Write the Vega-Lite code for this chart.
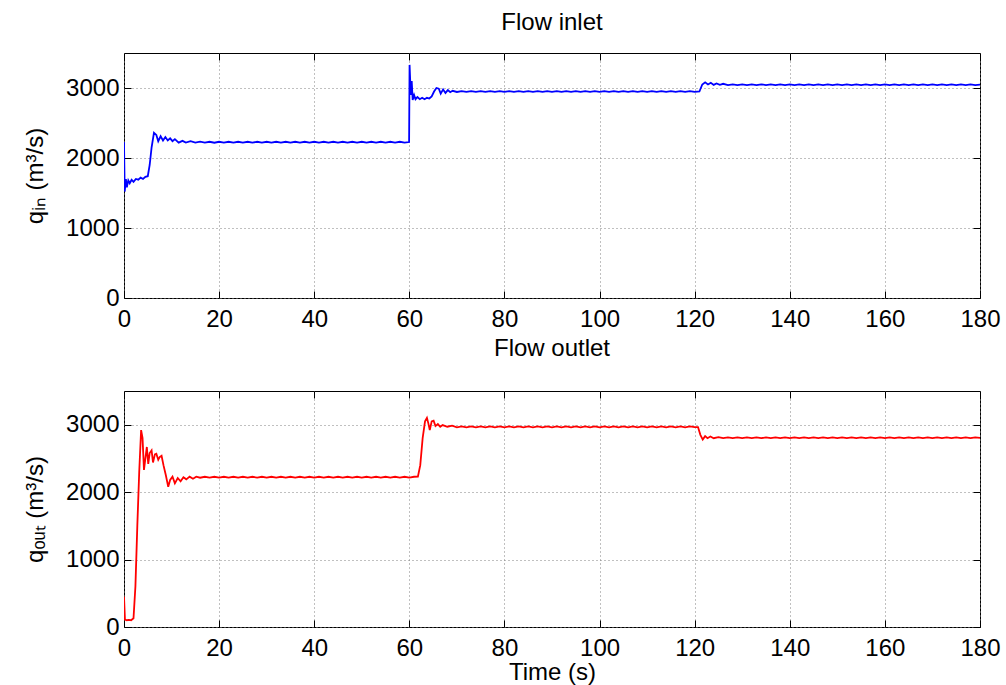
{
  "$schema": "https://vega.github.io/schema/vega-lite/v6.json",
  "autosize": {"type": "pad"},
  "padding": {"left": 23, "top": 10, "right": 26, "bottom": 5},
  "background": "white",
  "bounds": "flush",
  "spacing": 93,
  "config": {
    "font": "Liberation Sans",
    "view": {"stroke": "#000000", "strokeWidth": 1},
    "axis": {
      "labelFont": "Liberation Sans", "labelFontSize": 24, "labelColor": "#000000",
      "titleFont": "Liberation Sans", "titleFontSize": 24, "titleFontWeight": "normal", "titleColor": "#000000",
      "domain": false, "tickColor": "#000000", "tickSize": -7, "tickWidth": 1,
      "gridColor": "#808080", "gridDash": [1, 3], "gridWidth": 1, "gridOpacity": 1,
      "labelFlush": false, "labelOverlap": false, "format": "d"
    },
    "axisX": {"labelPadding": 16},
    "axisY": {"labelPadding": 12},
    "title": {"font": "Liberation Sans", "fontSize": 24, "fontWeight": "normal", "color": "#000000", "offset": 18}
  },
  "datasets": {
    "inlet": [
      {"t":0,"q":2230},{"t":0.15,"q":1520},{"t":0.4,"q":1700},{"t":0.6,"q":1580},{"t":0.9,"q":1680},{"t":1.2,"q":1640},{"t":1.6,"q":1690},{"t":2.0,"q":1660},{"t":2.5,"q":1700},{"t":3.0,"q":1690},{"t":3.5,"q":1720},{"t":4.0,"q":1700},{"t":4.5,"q":1730},{"t":5.0,"q":1740},{"t":5.4,"q":1900},{"t":5.8,"q":2150},{"t":6.3,"q":2360},{"t":6.8,"q":2330},{"t":7.2,"q":2240},{"t":7.7,"q":2310},{"t":8.2,"q":2250},{"t":8.7,"q":2300},{"t":9.2,"q":2250},{"t":9.7,"q":2280},{"t":10.2,"q":2240},{"t":10.7,"q":2270},{"t":11.5,"q":2220},{"t":12.3,"q":2245},{"t":13,"q":2220},{"t":14,"q":2240},
      {"t":15,"q":2220},{"t":16,"q":2234},{"t":17,"q":2220},{"t":18,"q":2232},{"t":19,"q":2218},{"t":20,"q":2232},{"t":21,"q":2220},{"t":22,"q":2232},{"t":23,"q":2220},{"t":24,"q":2232},{"t":25,"q":2220},{"t":26,"q":2232},{"t":27,"q":2220},{"t":28,"q":2232},{"t":29,"q":2220},{"t":30,"q":2232},{"t":31,"q":2220},{"t":32,"q":2232},{"t":33,"q":2220},{"t":34,"q":2232},{"t":35,"q":2220},{"t":36,"q":2232},{"t":37,"q":2220},{"t":38,"q":2232},{"t":39,"q":2220},{"t":40,"q":2232},{"t":41,"q":2220},{"t":42,"q":2232},{"t":43,"q":2220},{"t":44,"q":2232},{"t":45,"q":2220},{"t":46,"q":2232},{"t":47,"q":2220},{"t":48,"q":2232},{"t":49,"q":2220},{"t":50,"q":2232},{"t":51,"q":2220},{"t":52,"q":2232},{"t":53,"q":2220},{"t":54,"q":2232},{"t":55,"q":2220},{"t":56,"q":2232},{"t":57,"q":2220},{"t":58,"q":2232},{"t":59,"q":2220},{"t":59.95,"q":2228},
      {"t":60.05,"q":3330},{"t":60.3,"q":2900},{"t":60.5,"q":3100},{"t":60.7,"q":2830},{"t":61,"q":2900},{"t":61.3,"q":2840},{"t":61.7,"q":2870},{"t":62.2,"q":2840},{"t":62.7,"q":2860},{"t":63.2,"q":2840},{"t":63.7,"q":2860},{"t":64.2,"q":2850},{"t":64.7,"q":2880},{"t":65.2,"q":2950},{"t":65.7,"q":3000},{"t":66.2,"q":2990},{"t":66.6,"q":2920},{"t":67.1,"q":2980},{"t":67.6,"q":2930},{"t":68.1,"q":2970},{"t":68.6,"q":2940},{"t":69.1,"q":2960},
      {"t":70,"q":2943},{"t":71,"q":2956},{"t":72,"q":2944},{"t":73,"q":2956},{"t":74,"q":2944},{"t":75,"q":2956},{"t":76,"q":2944},{"t":77,"q":2956},{"t":78,"q":2944},{"t":79,"q":2956},{"t":80,"q":2944},{"t":81,"q":2956},{"t":82,"q":2944},{"t":83,"q":2956},{"t":84,"q":2944},{"t":85,"q":2956},{"t":86,"q":2944},{"t":87,"q":2956},{"t":88,"q":2944},{"t":89,"q":2956},{"t":90,"q":2944},{"t":91,"q":2956},{"t":92,"q":2944},{"t":93,"q":2956},{"t":94,"q":2944},{"t":95,"q":2956},{"t":96,"q":2944},{"t":97,"q":2956},{"t":98,"q":2944},{"t":99,"q":2956},{"t":100,"q":2944},{"t":101,"q":2956},{"t":102,"q":2944},{"t":103,"q":2956},{"t":104,"q":2944},{"t":105,"q":2956},{"t":106,"q":2944},{"t":107,"q":2956},{"t":108,"q":2944},{"t":109,"q":2956},{"t":110,"q":2944},{"t":111,"q":2956},{"t":112,"q":2944},{"t":113,"q":2956},{"t":114,"q":2944},{"t":115,"q":2956},{"t":116,"q":2944},{"t":117,"q":2956},{"t":118,"q":2944},{"t":119,"q":2956},{"t":120,"q":2944},{"t":121,"q":2950},
      {"t":121.6,"q":3050},{"t":122.2,"q":3080},{"t":122.8,"q":3050},{"t":123.4,"q":3075},{"t":124,"q":3045},{"t":124.6,"q":3065},{"t":125.3,"q":3045},{"t":126,"q":3060},
      {"t":127,"q":3042},{"t":128,"q":3053},{"t":129,"q":3042},{"t":130,"q":3053},{"t":131,"q":3042},{"t":132,"q":3053},{"t":133,"q":3042},{"t":134,"q":3053},{"t":135,"q":3042},{"t":136,"q":3053},{"t":137,"q":3042},{"t":138,"q":3053},{"t":139,"q":3042},{"t":140,"q":3053},{"t":141,"q":3042},{"t":142,"q":3053},{"t":143,"q":3042},{"t":144,"q":3053},{"t":145,"q":3042},{"t":146,"q":3053},{"t":147,"q":3042},{"t":148,"q":3053},{"t":149,"q":3042},{"t":150,"q":3053},{"t":151,"q":3042},{"t":152,"q":3053},{"t":153,"q":3042},{"t":154,"q":3053},{"t":155,"q":3042},{"t":156,"q":3053},{"t":157,"q":3042},{"t":158,"q":3053},{"t":159,"q":3042},{"t":160,"q":3053},{"t":161,"q":3042},{"t":162,"q":3053},{"t":163,"q":3042},{"t":164,"q":3053},{"t":165,"q":3042},{"t":166,"q":3053},{"t":167,"q":3042},{"t":168,"q":3053},{"t":169,"q":3042},{"t":170,"q":3053},{"t":171,"q":3042},{"t":172,"q":3053},{"t":173,"q":3042},{"t":174,"q":3053},{"t":175,"q":3042},{"t":176,"q":3053},{"t":177,"q":3042},{"t":178,"q":3053},{"t":179,"q":3042},{"t":180,"q":3048}
    ],
    "outlet": [
      {"t":0,"q":450},{"t":0.2,"q":110},{"t":0.6,"q":100},{"t":1.0,"q":105},{"t":1.5,"q":100},{"t":2.0,"q":130},{"t":2.4,"q":600},{"t":2.8,"q":1500},{"t":3.2,"q":2300},{"t":3.6,"q":2920},{"t":3.9,"q":2800},{"t":4.2,"q":2330},{"t":4.5,"q":2500},{"t":4.8,"q":2670},{"t":5.1,"q":2420},{"t":5.4,"q":2580},{"t":5.8,"q":2620},{"t":6.1,"q":2440},{"t":6.5,"q":2560},{"t":6.8,"q":2570},{"t":7.2,"q":2480},{"t":7.5,"q":2520},{"t":7.9,"q":2540},{"t":8.3,"q":2400},{"t":8.8,"q":2250},{"t":9.3,"q":2080},{"t":9.7,"q":2180},{"t":10.2,"q":2230},{"t":10.7,"q":2130},{"t":11.3,"q":2210},{"t":11.9,"q":2160},{"t":12.5,"q":2220},{"t":13.1,"q":2190},{"t":13.8,"q":2230},{"t":14.5,"q":2200},{"t":15.2,"q":2230},
      {"t":16,"q":2214},{"t":17,"q":2228},{"t":18,"q":2216},{"t":19,"q":2228},{"t":20,"q":2216},{"t":21,"q":2228},{"t":22,"q":2216},{"t":23,"q":2228},{"t":24,"q":2216},{"t":25,"q":2228},{"t":26,"q":2216},{"t":27,"q":2228},{"t":28,"q":2216},{"t":29,"q":2228},{"t":30,"q":2216},{"t":31,"q":2228},{"t":32,"q":2216},{"t":33,"q":2228},{"t":34,"q":2216},{"t":35,"q":2228},{"t":36,"q":2216},{"t":37,"q":2228},{"t":38,"q":2216},{"t":39,"q":2228},{"t":40,"q":2216},{"t":41,"q":2228},{"t":42,"q":2216},{"t":43,"q":2228},{"t":44,"q":2216},{"t":45,"q":2228},{"t":46,"q":2216},{"t":47,"q":2228},{"t":48,"q":2216},{"t":49,"q":2228},{"t":50,"q":2216},{"t":51,"q":2228},{"t":52,"q":2216},{"t":53,"q":2228},{"t":54,"q":2216},{"t":55,"q":2228},{"t":56,"q":2216},{"t":57,"q":2228},{"t":58,"q":2216},{"t":59,"q":2228},{"t":60,"q":2216},{"t":61,"q":2228},{"t":61.8,"q":2230},
      {"t":62.3,"q":2400},{"t":62.8,"q":2800},{"t":63.3,"q":3050},{"t":63.7,"q":3100},{"t":64.0,"q":3020},{"t":64.3,"q":2920},{"t":64.7,"q":3050},{"t":65.1,"q":3060},{"t":65.5,"q":2980},{"t":66,"q":3010},{"t":66.5,"q":2970},{"t":67,"q":2995},{"t":68,"q":2970},{"t":69,"q":2985},
      {"t":70,"q":2962},{"t":71,"q":2974},{"t":72,"q":2962},{"t":73,"q":2974},{"t":74,"q":2962},{"t":75,"q":2974},{"t":76,"q":2962},{"t":77,"q":2974},{"t":78,"q":2962},{"t":79,"q":2974},{"t":80,"q":2962},{"t":81,"q":2974},{"t":82,"q":2962},{"t":83,"q":2974},{"t":84,"q":2962},{"t":85,"q":2974},{"t":86,"q":2962},{"t":87,"q":2974},{"t":88,"q":2962},{"t":89,"q":2974},{"t":90,"q":2962},{"t":91,"q":2974},{"t":92,"q":2962},{"t":93,"q":2974},{"t":94,"q":2962},{"t":95,"q":2974},{"t":96,"q":2962},{"t":97,"q":2974},{"t":98,"q":2962},{"t":99,"q":2974},{"t":100,"q":2962},{"t":101,"q":2974},{"t":102,"q":2962},{"t":103,"q":2974},{"t":104,"q":2962},{"t":105,"q":2974},{"t":106,"q":2962},{"t":107,"q":2974},{"t":108,"q":2962},{"t":109,"q":2974},{"t":110,"q":2962},{"t":111,"q":2974},{"t":112,"q":2962},{"t":113,"q":2974},{"t":114,"q":2962},{"t":115,"q":2974},{"t":116,"q":2962},{"t":117,"q":2974},{"t":118,"q":2962},{"t":119,"q":2974},{"t":120,"q":2965},{"t":120.7,"q":2965},
      {"t":121.2,"q":2850},{"t":121.7,"q":2780},{"t":122.2,"q":2830},{"t":122.7,"q":2800},{"t":123.3,"q":2825},{"t":124,"q":2800},{"t":125,"q":2815},
      {"t":126,"q":2800},{"t":127,"q":2811},{"t":128,"q":2800},{"t":129,"q":2811},{"t":130,"q":2800},{"t":131,"q":2811},{"t":132,"q":2800},{"t":133,"q":2811},{"t":134,"q":2800},{"t":135,"q":2811},{"t":136,"q":2800},{"t":137,"q":2811},{"t":138,"q":2800},{"t":139,"q":2811},{"t":140,"q":2800},{"t":141,"q":2811},{"t":142,"q":2800},{"t":143,"q":2811},{"t":144,"q":2800},{"t":145,"q":2811},{"t":146,"q":2800},{"t":147,"q":2811},{"t":148,"q":2800},{"t":149,"q":2811},{"t":150,"q":2800},{"t":151,"q":2811},{"t":152,"q":2800},{"t":153,"q":2811},{"t":154,"q":2800},{"t":155,"q":2811},{"t":156,"q":2800},{"t":157,"q":2811},{"t":158,"q":2800},{"t":159,"q":2811},{"t":160,"q":2800},{"t":161,"q":2811},{"t":162,"q":2800},{"t":163,"q":2811},{"t":164,"q":2800},{"t":165,"q":2811},{"t":166,"q":2800},{"t":167,"q":2811},{"t":168,"q":2800},{"t":169,"q":2811},{"t":170,"q":2800},{"t":171,"q":2811},{"t":172,"q":2800},{"t":173,"q":2811},{"t":174,"q":2800},{"t":175,"q":2811},{"t":176,"q":2800},{"t":177,"q":2811},{"t":178,"q":2800},{"t":179,"q":2811},{"t":180,"q":2805}
    ]
  },
  "vconcat": [
    {
      "width": 856, "height": 245,
      "title": {"text": "Flow inlet"},
      "data": {"name": "inlet"},
      "layer": [
        {
          "mark": {"type": "line", "color": "#0000ff", "strokeWidth": 1.8, "clip": true},
          "encoding": {
            "x": {"field": "t", "type": "quantitative", "scale": {"domain": [0, 180], "nice": false, "zero": false},
                  "axis": {"values": [0, 20, 40, 60, 80, 100, 120, 140, 160, 180], "title": null}},
            "y": {"field": "q", "type": "quantitative", "scale": {"domain": [0, 3500], "nice": false},
                  "axis": {"values": [0, 1000, 2000, 3000], "title": "qᵢₙ (m³/s)", "titlePadding": 18}}
          }
        },
        {
          "mark": {"type": "line", "opacity": 0},
          "encoding": {
            "x": {"field": "t", "type": "quantitative", "axis": {"orient": "top", "labels": false, "grid": false, "title": null, "values": [0, 20, 40, 60, 80, 100, 120, 140, 160, 180]}},
            "y": {"field": "q", "type": "quantitative", "axis": {"orient": "right", "labels": false, "grid": false, "title": null, "values": [0, 1000, 2000, 3000]}}
          }
        }
      ],
      "resolve": {"axis": {"x": "independent", "y": "independent"}}
    },
    {
      "width": 856, "height": 236,
      "title": {"text": "Flow outlet", "offset": 30},
      "data": {"name": "outlet"},
      "layer": [
        {
          "mark": {"type": "line", "color": "#ff0000", "strokeWidth": 1.8, "clip": true},
          "encoding": {
            "x": {"field": "t", "type": "quantitative", "scale": {"domain": [0, 180], "nice": false, "zero": false},
                  "axis": {"values": [0, 20, 40, 60, 80, 100, 120, 140, 160, 180], "title": "Time (s)", "titlePadding": 0}},
            "y": {"field": "q", "type": "quantitative", "scale": {"domain": [0, 3500], "nice": false},
                  "axis": {"values": [0, 1000, 2000, 3000], "title": "qₒᵤₜ (m³/s)", "titlePadding": 18}}
          }
        },
        {
          "mark": {"type": "line", "opacity": 0},
          "encoding": {
            "x": {"field": "t", "type": "quantitative", "axis": {"orient": "top", "labels": false, "grid": false, "title": null, "values": [0, 20, 40, 60, 80, 100, 120, 140, 160, 180]}},
            "y": {"field": "q", "type": "quantitative", "axis": {"orient": "right", "labels": false, "grid": false, "title": null, "values": [0, 1000, 2000, 3000]}}
          }
        }
      ],
      "resolve": {"axis": {"x": "independent", "y": "independent"}}
    }
  ]
}
